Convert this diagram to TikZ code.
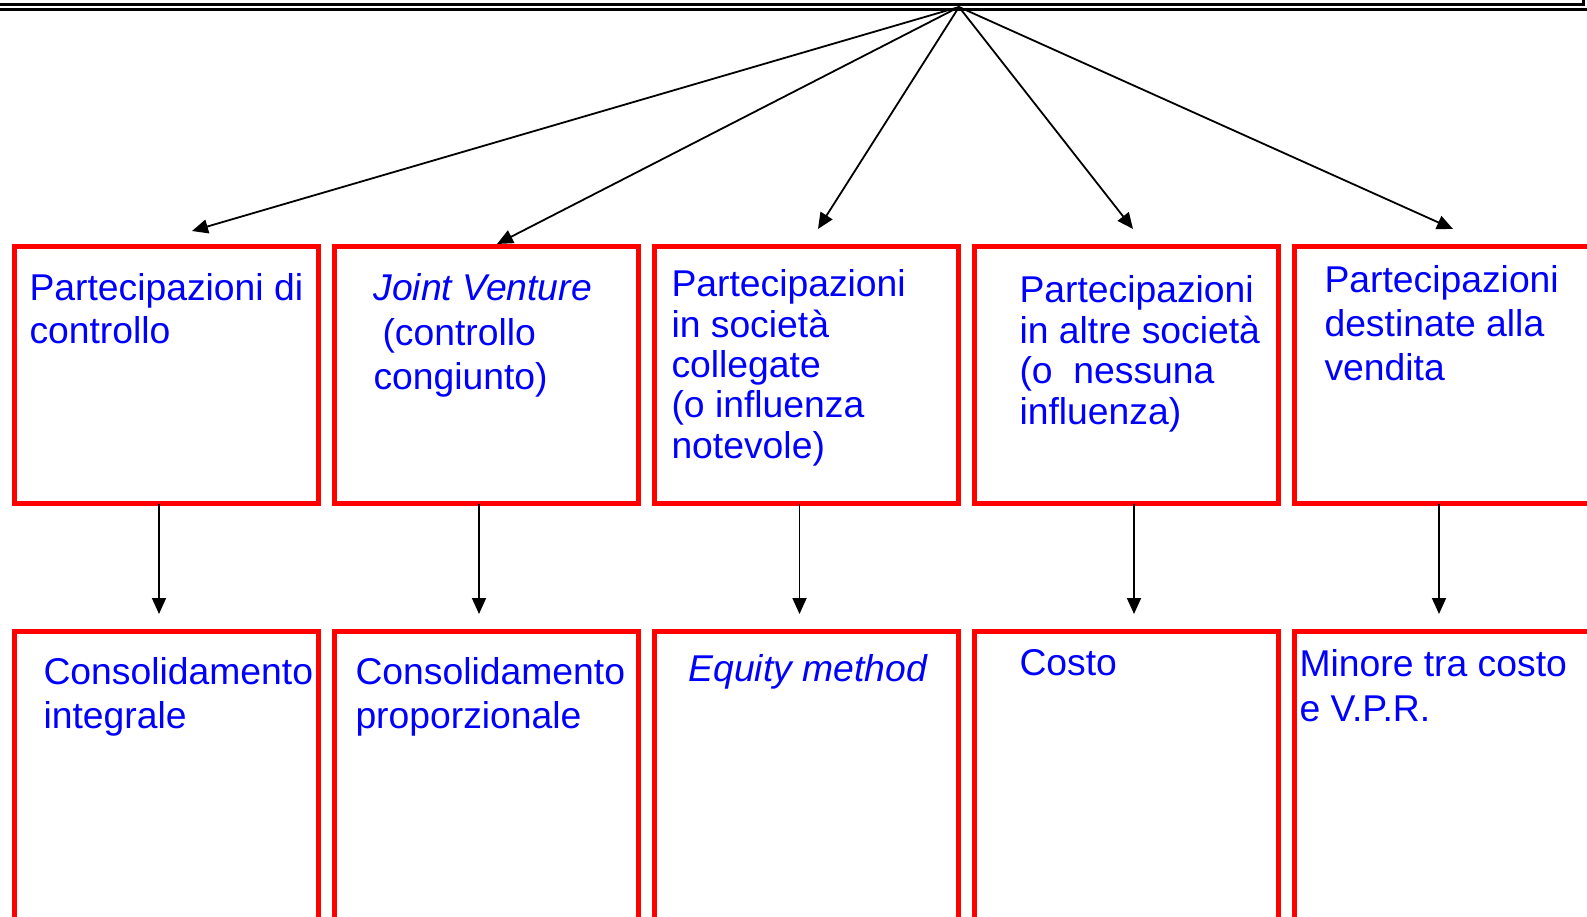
\documentclass[tikz,border=0pt]{standalone}
\usepackage{fontspec}
\setmainfont{Liberation Sans}
\usetikzlibrary{arrows.meta}
\definecolor{pblue}{RGB}{0,0,255}
\definecolor{pred}{RGB}{255,0,0}
\newcommand{\mylines}[2]{\vtop{\baselineskip=#1pt\relax #2}}
\tikzset{
  pbox/.style={draw=pred, line width=5pt, rectangle, minimum width=304pt, inner sep=0pt, outer sep=0pt},
  tbox/.style={pbox, minimum height=256.5pt},
  bbox/.style={pbox, minimum height=328.5pt},
  lbl/.style={anchor=base west, inner sep=0pt, outer sep=0pt, text=pblue, font=\fontsize{37.3}{44}\selectfont},
  conn/.style={draw=black, line width=1.8pt, -{Triangle[length=16pt,width=14pt]}},
  hline/.style={draw=black, line width=3pt}
}
\begin{document}
\begin{tikzpicture}[x=1pt,y=-1pt]
\useasboundingbox (0,0) rectangle (1587,917);
\clip (0,0) rectangle (1587,917);
\fill[white] (0,0) rectangle (1587,917);
% top double line
\draw[hline] (-10,-40) -- (1583.5,-40) -- (1583.5,4.7) -- (-10,4.7) -- cycle;
\draw[hline] (-10,9.8) -- (1600,9.8);
% boxes top row
\node[tbox] (t1) at (166.5,375.25) {};
\node[tbox] (t2) at (486.5,375.25) {};
\node[tbox] (t3) at (806.5,375.25) {};
\node[tbox] (t4) at (1126.5,375.25) {};
\node[tbox] (t5) at (1446.5,375.25) {};
% boxes bottom row
\node[bbox] (b1) at (166.5,795.75) {};
\node[bbox] (b2) at (486.5,795.75) {};
\node[bbox] (b3) at (806.5,795.75) {};
\node[bbox] (b4) at (1126.5,795.75) {};
\node[bbox] (b5) at (1446.5,795.75) {};
% texts top row
\node[lbl] (x1) at (29.5,300.5) {\mylines{43.5}{\hbox{Partecipazioni di}\hbox{controllo}}};
\node[lbl] (x2) at (373.5,300.5) {\mylines{44.5}{\hbox{\itshape Joint Venture}\hbox{\hspace{9pt}(controllo}\hbox{congiunto)}}};
\node[lbl] (x3) at (671.5,296.5) {\mylines{40.5}{\hbox{Partecipazioni}\hbox{in società}\hbox{collegate}\hbox{(o influenza}\hbox{notevole)}}};
\node[lbl] (x4) at (1019.5,302.5) {\mylines{40.5}{\hbox{Partecipazioni}\hbox{in altre società}\hbox{(o\ \ nessuna}\hbox{influenza)}}};
\node[lbl] (x5) at (1324.5,292.3) {\mylines{44.2}{\hbox{Partecipazioni}\hbox{destinate alla}\hbox{vendita}}};
% texts bottom row
\node[lbl] (y1) at (43.5,684) {\mylines{44.5}{\hbox{Consolidamento}\hbox{integrale}}};
\node[lbl] (y2) at (355.5,684) {\mylines{44.5}{\hbox{Consolidamento}\hbox{proporzionale}}};
\node[lbl] (y3) at (688.5,681) {\itshape Equity method};
\node[lbl] (y4) at (1019.5,675) {Costo};
\node[lbl] (y5) at (1299.5,676.7) {\mylines{45}{\hbox{Minore tra costo}\hbox{e V.P.R.}}};
% connectors
\coordinate (apex) at (959,7);
\coordinate (a1) at (192,231);
\coordinate (a2) at (497,244);
\coordinate (a3) at (818,229);
\coordinate (a4) at (1133,229);
\coordinate (a5) at (1453,229);
\draw[conn] (apex) -- (a1);
\draw[conn] (apex) -- (a2);
\draw[conn] (apex) -- (a3);
\draw[conn] (apex) -- (a4);
\draw[conn] (apex) -- (a5);
\coordinate (s1) at (159,503.5); \coordinate (e1) at (159,614);
\coordinate (s2) at (479,503.5); \coordinate (e2) at (479,614);
\coordinate (s3) at (799.5,503.5); \coordinate (e3) at (799.5,614);
\coordinate (s4) at (1134,503.5); \coordinate (e4) at (1134,614);
\coordinate (s5) at (1439,503.5); \coordinate (e5) at (1439,614);
\draw[conn] (s1) -- (e1);
\draw[conn] (s2) -- (e2);
\draw[conn] (s3) -- (e3);
\draw[conn] (s4) -- (e4);
\draw[conn] (s5) -- (e5);
\end{tikzpicture}
\end{document}
